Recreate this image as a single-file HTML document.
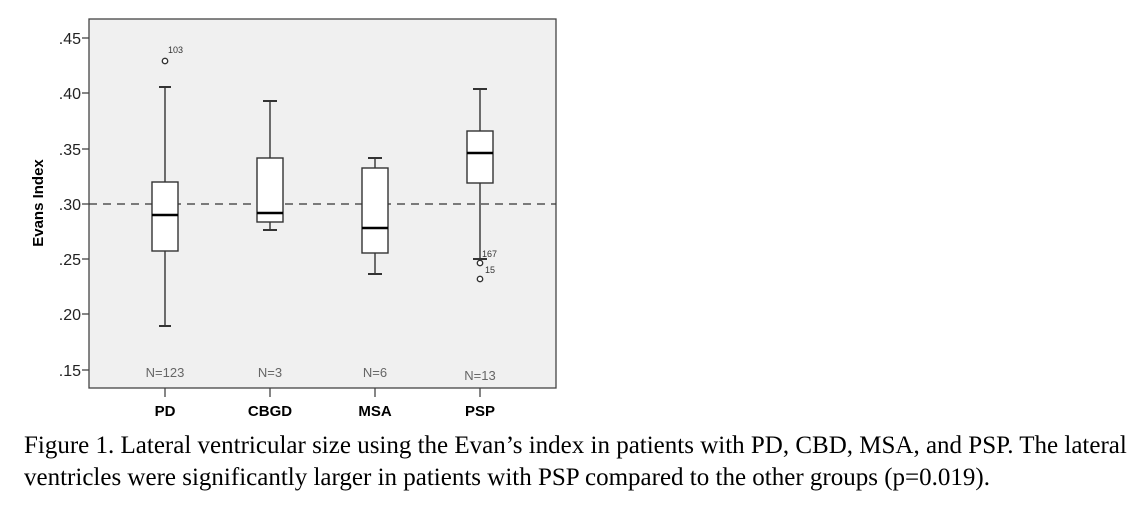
<!DOCTYPE html>
<html><head><style>
body{margin:0;background:#fff;width:1148px;height:508px;overflow:hidden;position:relative}
.cap{position:absolute;left:24px;font-family:"Liberation Serif",serif;font-size:25px;color:#000;white-space:nowrap;line-height:30px}
</style></head><body>
<svg width="1148" height="430" style="position:absolute;left:0;top:0" font-family="Liberation Sans, sans-serif">
<rect x="89" y="19" width="467" height="369" fill="#f0f0f0" stroke="#444" stroke-width="1.3"/>
<g stroke="#444" stroke-width="1.3">
<line x1="82" y1="38" x2="89" y2="38"/><line x1="82" y1="93" x2="89" y2="93"/><line x1="82" y1="149" x2="89" y2="149"/><line x1="82" y1="204" x2="89" y2="204"/><line x1="82" y1="259" x2="89" y2="259"/><line x1="82" y1="314" x2="89" y2="314"/><line x1="82" y1="370" x2="89" y2="370"/>
<line x1="165" y1="388" x2="165" y2="397"/><line x1="270" y1="388" x2="270" y2="397"/><line x1="375" y1="388" x2="375" y2="397"/><line x1="480" y1="388" x2="480" y2="397"/>
</g>
<g font-size="16" fill="#222" text-anchor="end">
<text x="81" y="44">.45</text><text x="81" y="99">.40</text><text x="81" y="155">.35</text><text x="81" y="210">.30</text><text x="81" y="265">.25</text><text x="81" y="320">.20</text><text x="81" y="376">.15</text>
</g>
<text transform="translate(43,203) rotate(-90)" font-size="15" font-weight="bold" text-anchor="middle">Evans Index</text>
<g font-size="15" font-weight="bold" text-anchor="middle">
<text x="165" y="416">PD</text><text x="270" y="416">CBGD</text><text x="375" y="416">MSA</text><text x="480" y="416">PSP</text>
</g>
<g font-size="13" fill="#666" text-anchor="middle">
<text x="165" y="377">N=123</text><text x="270" y="377">N=3</text><text x="375" y="377">N=6</text><text x="480" y="380">N=13</text>
</g>
<line x1="89" y1="204" x2="556" y2="204" stroke="#333" stroke-width="1.2" stroke-dasharray="8,6"/>
<g stroke="#333" stroke-width="1.4" fill="#fff">
<line x1="165" y1="87" x2="165" y2="326"/><line x1="159" y1="87" x2="171" y2="87" stroke-width="2"/><line x1="159" y1="326" x2="171" y2="326" stroke-width="2"/>
<rect x="152" y="182" width="26" height="69"/>
<line x1="270" y1="101" x2="270" y2="230"/><line x1="263" y1="101" x2="277" y2="101" stroke-width="2"/><line x1="263" y1="230" x2="277" y2="230" stroke-width="2"/>
<rect x="257" y="158" width="26" height="64"/>
<line x1="375" y1="158" x2="375" y2="274"/><line x1="368" y1="158" x2="382" y2="158" stroke-width="2"/><line x1="368" y1="274" x2="382" y2="274" stroke-width="2"/>
<rect x="362" y="168" width="26" height="85"/>
<line x1="480" y1="89" x2="480" y2="259"/><line x1="473" y1="89" x2="487" y2="89" stroke-width="2"/><line x1="473" y1="259" x2="487" y2="259" stroke-width="2"/>
<rect x="467" y="131" width="26" height="52"/>
<circle cx="165" cy="61" r="2.7"/><circle cx="480" cy="263" r="2.7"/><circle cx="480" cy="279" r="2.7"/>
</g>
<g stroke="#000" stroke-width="2.5">
<line x1="152" y1="215" x2="178" y2="215"/><line x1="257" y1="213" x2="283" y2="213"/><line x1="362" y1="228" x2="388" y2="228"/><line x1="467" y1="153" x2="493" y2="153"/>
</g>
<g font-size="9" fill="#333">
<text x="168" y="53">103</text><text x="482" y="257">167</text><text x="485" y="273">15</text>
</g>
</svg>
<div class="cap" style="top:431px">Figure 1. Lateral ventricular size using the Evan’s index in patients with PD, CBD, MSA, and PSP. The lateral</div>
<div class="cap" style="top:463px">ventricles were significantly larger in patients with PSP compared to the other groups (p=0.019).</div>
</body></html>
